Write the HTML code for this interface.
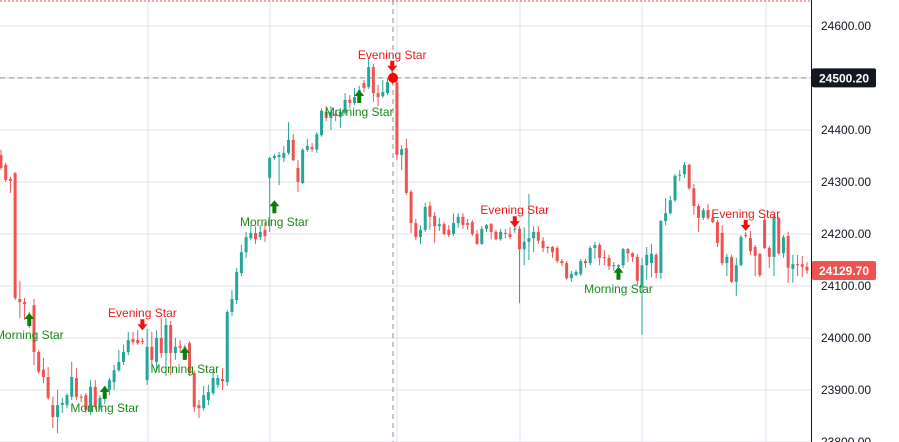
<!DOCTYPE html>
<html><head><meta charset="utf-8"><style>
html,body{margin:0;padding:0;background:#fff;overflow:hidden}
svg{display:block;font-family:"Liberation Sans",sans-serif}
</style></head><body>
<svg id="chart" width="899" height="442" viewBox="0 0 899 442">
<rect x="0" y="0" width="899" height="442" fill="#ffffff"/>
<g id="grid"></g>
<g id="candles"></g>
<g id="marks"></g>
<g id="axis"></g>
</svg>
<script>
const opens=[24352,24333,24306,24317,24075,24069,24038,24063,23973,23939,23925,23871,23848,23871,23871,23887,23923,23887,23890,23858,23906,23867,23885,23900,23915,23938,23954,23973,23998,23996,23994,23919,23983,23954,24000,23971,24025,23971,23985,23981,23990,23933,23871,23865,23881,23894,23910,23921,23915,24050,24073,24125,24165,24192,24202,24194,24208,24308,24346,24348,24346,24356,24381,24327,24298,24362,24367,24362,24390,24435,24423,24431,24425,24433,24458,24452,24463,24490,24483,24521,24471,24465,24471,24496,24492,24352,24365,24281,24221,24194,24208,24254,24235,24215,24219,24208,24200,24221,24233,24221,24223,24200,24181,24210,24219,24204,24190,24202,24200,24208,24210,24171,24185,24192,24204,24187,24175,24175,24173,24148,24144,24115,24121,24123,24148,24144,24173,24179,24156,24154,24138,24137,24140,24171,24163,24156,24098,24140,24144,24160,24125,24225,24240,24265,24312,24315,24333,24288,24254,24231,24246,24231,24223,24202,24144,24156,24108,24140,24198,24192,24175,24162,24227,24173,24156,24231,24163,24196,24133,24142,24142,24137];
const closes=[24327,24304,24302,24077,24069,24065,24042,23973,23935,23925,23885,23848,23871,23875,23890,23925,23887,23885,23862,23906,23867,23885,23904,23919,23938,23954,23973,23996,23992,23990,23993,23983,23958,24000,23971,24025,23971,23983,23981,23983,23933,23867,23865,23890,23896,23923,23923,23917,24050,24075,24127,24165,24194,24202,24190,24204,24196,24346,24350,24352,24356,24381,24342,24300,24362,24369,24363,24392,24437,24423,24435,24427,24435,24458,24452,24463,24477,24481,24521,24471,24463,24473,24492,24492,24352,24363,24279,24221,24194,24208,24252,24233,24215,24219,24200,24198,24221,24233,24217,24217,24200,24181,24210,24217,24204,24190,24204,24200,24194,24210,24171,24185,24192,24204,24187,24173,24173,24165,24148,24144,24115,24123,24127,24148,24144,24173,24179,24154,24154,24138,24140,24140,24171,24163,24156,24110,24140,24160,24162,24125,24225,24240,24265,24312,24314,24333,24288,24254,24231,24246,24231,24223,24183,24144,24156,24108,24140,24194,24196,24167,24158,24121,24173,24156,24233,24163,24194,24135,24142,24140,24137,24129.7];
const highs=[24362,24337,24310,24319,24110,24077,24050,24075,23977,23962,23944,23887,23900,23885,23894,23954,23942,23892,23894,23919,23919,23890,23908,23923,23948,23977,23987,24012,24012,24015,24000,24017,24012,24015,24038,24038,24033,24000,23996,23987,23994,23937,23881,23908,23910,23938,23929,23942,24054,24092,24135,24179,24204,24217,24215,24217,24223,24348,24354,24358,24369,24415,24392,24342,24365,24383,24375,24396,24442,24446,24446,24438,24442,24471,24467,24481,24485,24496,24538,24527,24487,24496,24500,24515,24500,24371,24383,24285,24229,24217,24260,24262,24242,24231,24223,24217,24240,24240,24240,24229,24227,24208,24215,24219,24221,24208,24210,24210,24213,24217,24215,24213,24277,24215,24215,24194,24177,24177,24177,24152,24148,24129,24131,24152,24152,24177,24185,24183,24169,24160,24146,24142,24173,24173,24165,24162,24154,24175,24181,24163,24227,24269,24273,24315,24323,24338,24335,24296,24258,24250,24258,24238,24227,24217,24162,24160,24154,24198,24204,24206,24179,24163,24233,24177,24237,24233,24198,24204,24160,24160,24158,24146];
const lows=[24323,24300,24279,24073,24038,24035,24019,23948,23931,23913,23881,23827,23817,23856,23865,23881,23881,23877,23856,23852,23862,23862,23873,23890,23900,23935,23948,23967,23987,23987,23988,23910,23946,23935,23962,23927,23929,23958,23973,23973,23927,23858,23846,23860,23871,23890,23904,23900,23908,24042,24065,24119,24154,24188,24181,24188,24185,24204,24342,24294,24338,24352,24340,24281,24296,24358,24358,24356,24387,24417,24400,24417,24404,24429,24442,24448,24458,24473,24479,24454,24446,24462,24467,24488,24342,24323,24275,24202,24188,24181,24204,24208,24183,24206,24198,24194,24196,24212,24210,24208,24196,24179,24179,24204,24190,24188,24187,24192,24190,24202,24067,24140,24150,24165,24181,24165,24163,24154,24144,24138,24112,24108,24119,24119,24135,24140,24152,24140,24140,24131,24129,24135,24135,24146,24146,24102,24006,24112,24117,24115,24113,24217,24237,24262,24302,24308,24285,24237,24204,24227,24227,24221,24175,24140,24119,24106,24081,24138,24192,24160,24119,24117,24171,24135,24119,24160,24154,24106,24106,24119,24117,24123];
const tickValues=[24600,24500,24400,24300,24200,24100,24000,23900,23800];
const tickLabels=["24600.00","24500.00","24400.00","24300.00","24200.00","24100.00","24000.00","23900.00","23800.00"];
const patternIdx=[6,22,30,39,58,76,83,109,131,158];
const patternType=["morning","morning","evening","morning","morning","morning","evening","evening","morning","evening"];
const patternPrice=[24048,23908,24015,23983,24265,24477,24512,24213,24137,24206];
const lastPrice=24129.7;
const crossPrice=24500.2;

const NS="http://www.w3.org/2000/svg";
const PLOT_R=811;
const N=Math.min(opens.length,closes.length,highs.length,lows.length);
function yOf(v){return 26+(24600-v)*0.52;}
function xOf(i){return 1+i*(806/(N-1));}
function mk(tag,attrs,parent){const e=document.createElementNS(NS,tag);for(const k in attrs)e.setAttribute(k,attrs[k]);parent.appendChild(e);return e;}
const gridG=document.getElementById('grid'),cg=document.getElementById('candles'),mg=document.getElementById('marks'),ax=document.getElementById('axis');
tickValues.forEach(v=>{const l=mk('line',{x1:0,x2:PLOT_R,y1:yOf(v),y2:yOf(v),stroke:'#e0e3eb','stroke-width':1},gridG);

});
[148,270,397,520,642,766].forEach(x=>{const l=mk('line',{x1:x,x2:x,y1:0,y2:442,stroke:'#e0e3eb','stroke-width':1},gridG);

});
const topLine=mk('line',{x1:0,x2:PLOT_R,y1:1,y2:1,stroke:'#ef5350','stroke-width':1,'stroke-dasharray':'2,2'},gridG);


for(let i=0;i<N;i++){
 const o=opens[i],c=closes[i],up=c>=o,col=up?'#26a69a':'#ef5350',x=xOf(i);
 const g=mk('g',{},cg);
 
 
 mk('line',{x1:x,x2:x,y1:yOf(highs[i]),y2:yOf(lows[i]),stroke:col,'stroke-width':1},g);
 const t=yOf(Math.max(o,c)),b=yOf(Math.min(o,c));
 mk('rect',{x:x-1.5,y:t,width:3,height:Math.max(1,b-t),fill:col},g);
}
const ch=mk('line',{x1:0,x2:PLOT_R,y1:yOf(crossPrice),y2:yOf(crossPrice),stroke:'#8a8d96','stroke-width':1,'stroke-dasharray':'5,4'},mg);


const cv=mk('line',{x1:393,x2:393,y1:0,y2:442,stroke:'#8a8d96','stroke-width':1,'stroke-dasharray':'5,4'},mg);


patternIdx.forEach((idx,k)=>{
 if(idx>=N)return;
 const x=xOf(idx),g=mk('g',{},mg);
 
 
 const ay=yOf(patternPrice[k]);
 if(patternType[k]==='morning'){
  mk('path',{d:`M${x} ${ay} l5 6 h-3 v7 h-4 v-7 h-3 z`,fill:'#0a7d0a'},g);
  const t=mk('text',{x:x,y:ay+26,'text-anchor':'middle','font-size':12,fill:'#1a8a1a'},g);t.textContent='Morning Star';
 } else {
  mk('path',{d:`M${x} ${ay} l5 -6 h-3 v-5 h-4 v5 h-3 z`,fill:'#f01010'},g);
  const t=mk('text',{x:x,y:ay-13,'text-anchor':'middle','font-size':12,fill:'#f01818'},g);t.textContent='Evening Star';
 }
});
const dot=mk('circle',{cx:393,cy:yOf(crossPrice),r:5,fill:'#f00'},mg);


mk('rect',{x:PLOT_R,y:0,width:88,height:442,fill:'#fff'},ax);
const al=mk('line',{x1:PLOT_R+0.5,x2:PLOT_R+0.5,y1:0,y2:442,stroke:'#131722','stroke-width':1},ax);


tickValues.forEach((v,k)=>{const t=mk('text',{x:821,y:yOf(v)+4,'font-size':12,fill:'#131722'},ax);t.textContent=tickLabels[k];

});
function badge(v,bg,name){const y=yOf(v);const g=mk('g',{},ax);
 
 
 mk('rect',{x:PLOT_R+1,y:y-9.5,width:64,height:19,rx:2,fill:bg},g);
 const t=mk('text',{x:PLOT_R+33,y:y+4.5,'text-anchor':'middle','font-size':12,'font-weight':'bold',fill:'#fff'},g);t.textContent=v.toFixed(2);}
badge(crossPrice,'#131722','crosshair-price-label');
badge(lastPrice,'#ef5350','last-price-label');
</script>
</body></html>
